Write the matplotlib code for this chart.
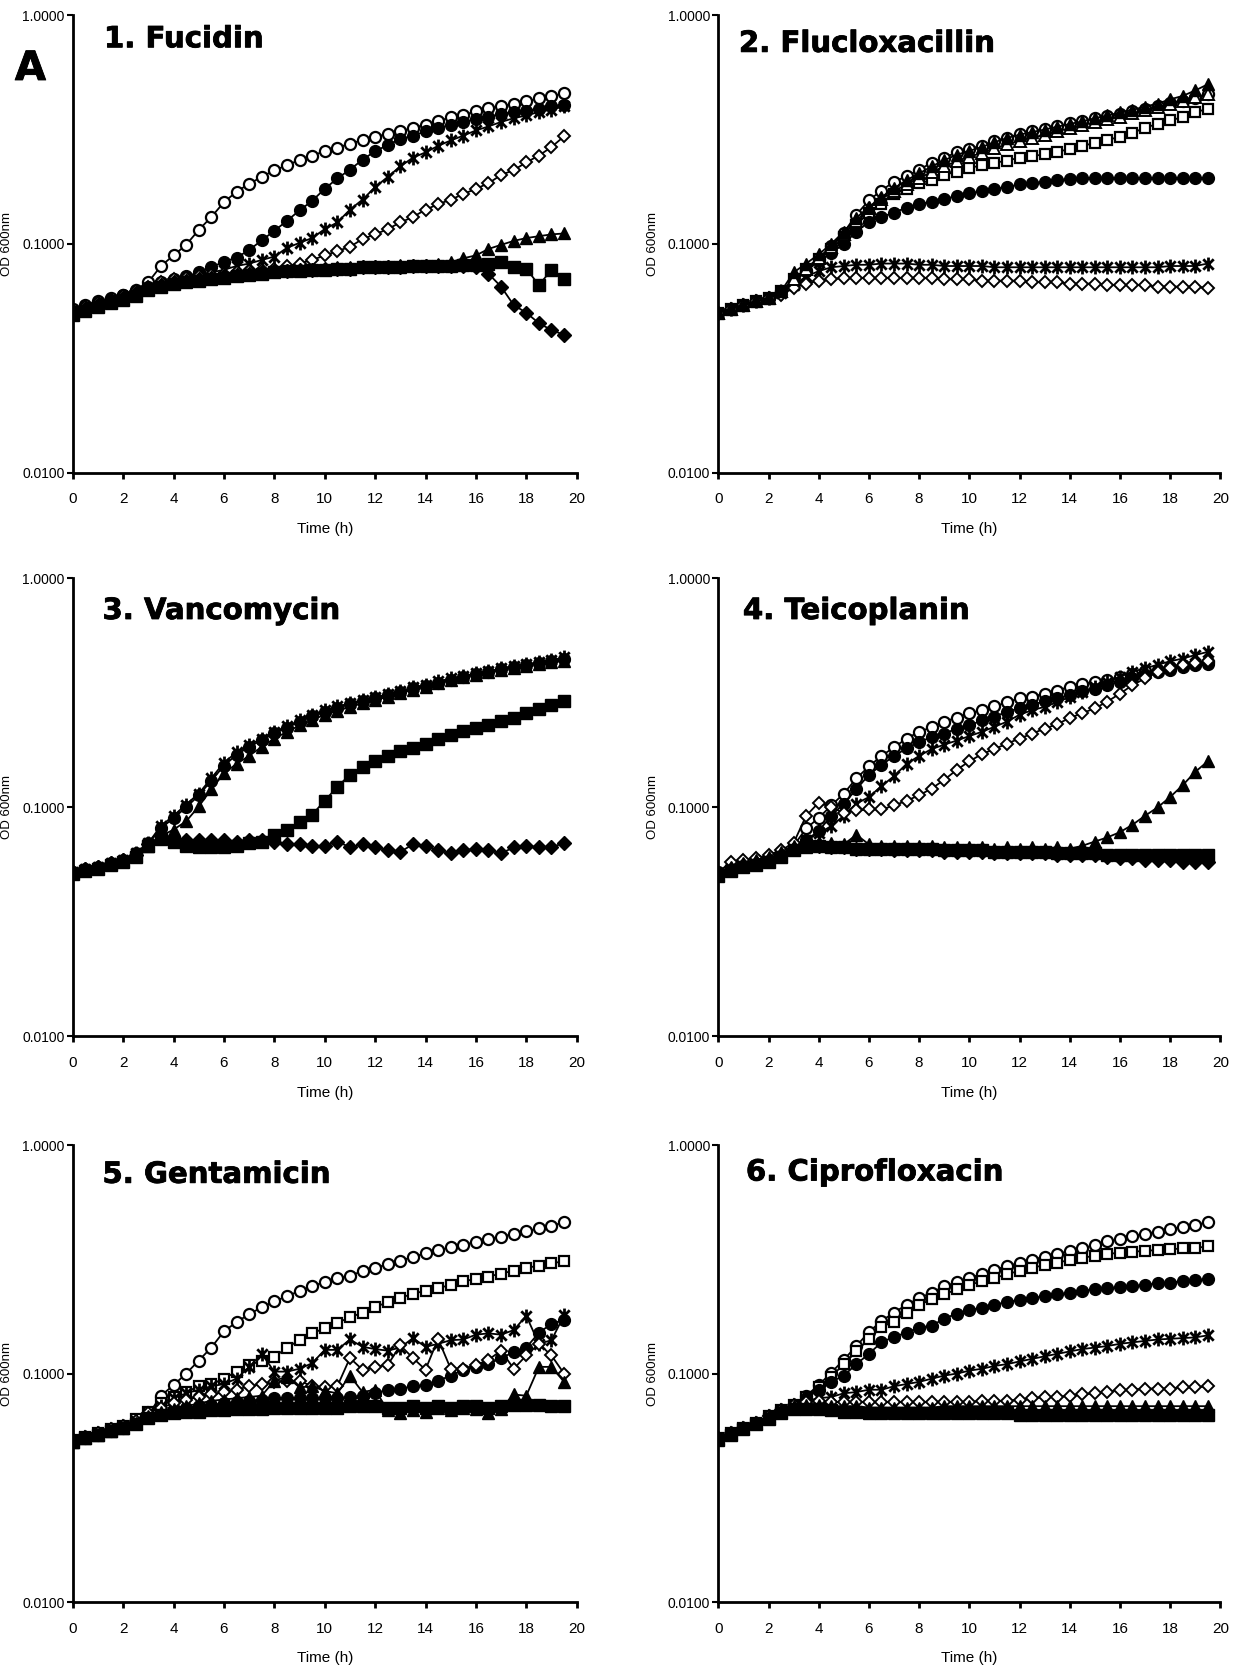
import matplotlib
matplotlib.use('Agg')
import matplotlib.pyplot as plt
import matplotlib.patheffects as pe
from matplotlib.path import Path
from matplotlib.ticker import FixedLocator, NullLocator, FixedFormatter

# sampling times (h)
hours = [0, 0.5, 1, 1.5, 2, 2.5, 3, 3.5, 4, 4.5, 5, 5.5, 6, 6.5, 7, 7.5, 8, 8.5, 9, 9.5,
         10, 10.5, 11, 11.5, 12, 12.5, 13, 13.5, 14, 14.5, 15, 15.5, 16, 16.5, 17, 17.5, 18, 18.5, 19, 19.5]

# OD 600nm readings, one list per series

# 1. Fucidin
fuc_open_circle = [0.052, 0.054, 0.056, 0.058, 0.060, 0.063, 0.068, 0.080, 0.089, 0.099, 0.115, 0.131, 0.152, 0.169,
                   0.183, 0.196, 0.210, 0.220, 0.233, 0.243, 0.254, 0.263, 0.274, 0.284, 0.294, 0.302, 0.311, 0.321,
                   0.332, 0.344, 0.357, 0.366, 0.379, 0.392, 0.399, 0.409, 0.420, 0.432, 0.443, 0.454]
fuc_filled_circle = [0.051, 0.053, 0.055, 0.057, 0.060, 0.062, 0.065, 0.068, 0.070, 0.072, 0.075, 0.079, 0.0835, 0.087,
                     0.094, 0.1035, 0.114, 0.126, 0.140, 0.154, 0.174, 0.193, 0.211, 0.233, 0.254, 0.270, 0.287, 0.297,
                     0.310, 0.320, 0.332, 0.341, 0.351, 0.360, 0.369, 0.377, 0.382, 0.390, 0.399, 0.406]
fuc_star = [0.050, 0.052, 0.054, 0.056, 0.058, 0.061, 0.064, 0.067, 0.069, 0.071, 0.073, 0.075, 0.077, 0.080,
            0.082, 0.085, 0.088, 0.096, 0.101, 0.106, 0.116, 0.124, 0.141, 0.156, 0.177, 0.196, 0.218, 0.238,
            0.251, 0.268, 0.283, 0.297, 0.313, 0.326, 0.341, 0.354, 0.364, 0.377, 0.386, 0.399]
fuc_open_diamond = [0.051, 0.053, 0.055, 0.057, 0.059, 0.062, 0.065, 0.068, 0.070, 0.071, 0.072, 0.073, 0.074, 0.075,
                    0.076, 0.077, 0.078, 0.080, 0.082, 0.085, 0.089, 0.093, 0.097, 0.105, 0.110, 0.116, 0.124, 0.131,
                    0.141, 0.149, 0.156, 0.165, 0.174, 0.184, 0.200, 0.210, 0.227, 0.243, 0.265, 0.295]
fuc_filled_triangle = [0.050, 0.052, 0.054, 0.056, 0.058, 0.061, 0.064, 0.066, 0.068, 0.069, 0.070, 0.071, 0.072, 0.073,
                       0.074, 0.075, 0.076, 0.077, 0.077, 0.078, 0.078, 0.079, 0.079, 0.080, 0.080, 0.080, 0.081, 0.081,
                       0.081, 0.082, 0.083, 0.0865, 0.089, 0.095, 0.099, 0.103, 0.106, 0.108, 0.110, 0.111]
fuc_filled_diamond = [0.050, 0.052, 0.054, 0.056, 0.058, 0.061, 0.064, 0.066, 0.068, 0.069, 0.070, 0.071, 0.072, 0.073,
                      0.074, 0.075, 0.076, 0.076, 0.077, 0.077, 0.078, 0.078, 0.078, 0.079, 0.079, 0.079, 0.079, 0.080,
                      0.080, 0.080, 0.080, 0.080, 0.079, 0.074, 0.065, 0.054, 0.050, 0.045, 0.042, 0.040]
fuc_filled_square = [0.049, 0.051, 0.053, 0.055, 0.057, 0.059, 0.063, 0.065, 0.067, 0.068, 0.069, 0.070, 0.071, 0.072,
                     0.073, 0.074, 0.075, 0.076, 0.076, 0.077, 0.077, 0.078, 0.078, 0.079, 0.079, 0.079, 0.079, 0.080,
                     0.080, 0.080, 0.080, 0.081, 0.081, 0.082, 0.083, 0.079, 0.078, 0.066, 0.077, 0.0705]

# 2. Flucloxacillin
flu_open_circle = [0.050, 0.052, 0.054, 0.056, 0.058, 0.062, 0.068, 0.076, 0.086, 0.098, 0.112, 0.134, 0.155, 0.171,
                   0.187, 0.197, 0.211, 0.226, 0.238, 0.251, 0.260, 0.269, 0.282, 0.291, 0.302, 0.310, 0.318, 0.327,
                   0.336, 0.345, 0.353, 0.361, 0.370, 0.381, 0.390, 0.400, 0.412, 0.423, 0.434, 0.450]
flu_open_square = [0.050, 0.052, 0.054, 0.056, 0.058, 0.062, 0.070, 0.078, 0.086, 0.095, 0.107, 0.121, 0.137, 0.150,
                   0.165, 0.174, 0.184, 0.190, 0.200, 0.207, 0.215, 0.220, 0.226, 0.231, 0.238, 0.242, 0.246, 0.252,
                   0.260, 0.267, 0.277, 0.284, 0.294, 0.305, 0.322, 0.334, 0.346, 0.358, 0.375, 0.390]
flu_filled_circle = [0.050, 0.052, 0.054, 0.056, 0.058, 0.062, 0.068, 0.076, 0.084, 0.091, 0.100, 0.113, 0.125, 0.131,
                     0.137, 0.144, 0.149, 0.153, 0.157, 0.162, 0.166, 0.170, 0.174, 0.177, 0.182, 0.184, 0.187, 0.190,
                     0.192, 0.193, 0.194, 0.194, 0.194, 0.194, 0.194, 0.194, 0.194, 0.194, 0.194, 0.194]
flu_star = [0.050, 0.052, 0.054, 0.056, 0.058, 0.061, 0.066, 0.072, 0.076, 0.079, 0.080, 0.081, 0.081, 0.082,
            0.082, 0.082, 0.081, 0.081, 0.080, 0.080, 0.080, 0.080, 0.079, 0.079, 0.079, 0.079, 0.079, 0.079,
            0.079, 0.079, 0.079, 0.079, 0.079, 0.079, 0.079, 0.079, 0.080, 0.080, 0.080, 0.082]
flu_open_diamond = [0.050, 0.052, 0.054, 0.056, 0.058, 0.060, 0.064, 0.067, 0.069, 0.070, 0.071, 0.071, 0.071, 0.071,
                    0.071, 0.071, 0.071, 0.071, 0.070, 0.070, 0.070, 0.069, 0.069, 0.069, 0.069, 0.068, 0.068, 0.068,
                    0.067, 0.067, 0.067, 0.066, 0.066, 0.066, 0.066, 0.065, 0.065, 0.065, 0.065, 0.064]
flu_open_triangle = [0.050, 0.052, 0.054, 0.056, 0.058, 0.062, 0.070, 0.078, 0.087, 0.097, 0.110, 0.126, 0.143, 0.157,
                     0.170, 0.182, 0.194, 0.206, 0.218, 0.230, 0.240, 0.250, 0.262, 0.272, 0.282, 0.291, 0.300, 0.310,
                     0.320, 0.330, 0.340, 0.350, 0.360, 0.372, 0.384, 0.396, 0.410, 0.423, 0.437, 0.452]
flu_filled_triangle = [0.050, 0.052, 0.054, 0.056, 0.058, 0.062, 0.075, 0.082, 0.090, 0.100, 0.113, 0.130, 0.145, 0.160,
                       0.175, 0.190, 0.203, 0.218, 0.232, 0.245, 0.255, 0.265, 0.278, 0.290, 0.300, 0.308, 0.316, 0.325,
                       0.334, 0.343, 0.354, 0.364, 0.375, 0.385, 0.398, 0.410, 0.428, 0.443, 0.468, 0.498]

# 3. Vancomycin
van_filled_circle = [0.052, 0.054, 0.055, 0.057, 0.059, 0.063, 0.070, 0.081, 0.090, 0.100, 0.113, 0.131, 0.152, 0.170,
                     0.184, 0.197, 0.211, 0.223, 0.237, 0.250, 0.262, 0.273, 0.282, 0.292, 0.300, 0.309, 0.319, 0.331,
                     0.340, 0.351, 0.362, 0.371, 0.381, 0.390, 0.401, 0.411, 0.419, 0.427, 0.436, 0.447]
van_star = [0.052, 0.054, 0.055, 0.057, 0.059, 0.063, 0.070, 0.083, 0.092, 0.103, 0.115, 0.134, 0.157, 0.174,
            0.187, 0.200, 0.214, 0.226, 0.240, 0.254, 0.266, 0.276, 0.285, 0.295, 0.303, 0.312, 0.322, 0.335,
            0.343, 0.355, 0.366, 0.375, 0.385, 0.393, 0.405, 0.415, 0.423, 0.430, 0.440, 0.452]
van_filled_triangle = [0.052, 0.054, 0.055, 0.057, 0.059, 0.062, 0.068, 0.075, 0.080, 0.087, 0.101, 0.120, 0.141, 0.155,
                       0.168, 0.184, 0.200, 0.214, 0.228, 0.241, 0.254, 0.264, 0.275, 0.285, 0.294, 0.305, 0.316, 0.326,
                       0.337, 0.348, 0.360, 0.370, 0.380, 0.389, 0.398, 0.407, 0.415, 0.423, 0.430, 0.437]
van_filled_diamond = [0.052, 0.054, 0.055, 0.057, 0.059, 0.062, 0.069, 0.075, 0.073, 0.072, 0.072, 0.072, 0.072, 0.071,
                      0.072, 0.072, 0.071, 0.069, 0.069, 0.068, 0.068, 0.071, 0.067, 0.069, 0.067, 0.065, 0.064, 0.069,
                      0.068, 0.065, 0.063, 0.065, 0.066, 0.065, 0.063, 0.067, 0.068, 0.067, 0.067, 0.070]
van_filled_square = [0.051, 0.053, 0.054, 0.056, 0.058, 0.061, 0.068, 0.073, 0.071, 0.068, 0.067, 0.067, 0.067, 0.068,
                     0.070, 0.071, 0.076, 0.080, 0.086, 0.093, 0.107, 0.123, 0.139, 0.150, 0.160, 0.167, 0.176, 0.182,
                     0.190, 0.200, 0.208, 0.215, 0.223, 0.230, 0.238, 0.247, 0.258, 0.270, 0.280, 0.292]

# 4. Teicoplanin
tei_open_circle = [0.052, 0.055, 0.057, 0.059, 0.061, 0.064, 0.068, 0.081, 0.090, 0.102, 0.115, 0.134, 0.151, 0.168,
                   0.183, 0.200, 0.214, 0.224, 0.237, 0.247, 0.258, 0.266, 0.276, 0.288, 0.300, 0.305, 0.314, 0.324,
                   0.337, 0.345, 0.354, 0.360, 0.373, 0.381, 0.393, 0.400, 0.410, 0.418, 0.425, 0.432]
tei_filled_circle = [0.051, 0.054, 0.056, 0.058, 0.060, 0.063, 0.067, 0.072, 0.079, 0.092, 0.104, 0.120, 0.139, 0.153,
                     0.168, 0.181, 0.193, 0.203, 0.210, 0.221, 0.228, 0.240, 0.249, 0.262, 0.271, 0.281, 0.291, 0.300,
                     0.310, 0.321, 0.330, 0.343, 0.354, 0.366, 0.380, 0.390, 0.400, 0.410, 0.420, 0.425]
tei_star = [0.051, 0.054, 0.056, 0.058, 0.060, 0.063, 0.067, 0.072, 0.077, 0.083, 0.092, 0.104, 0.111, 0.124,
            0.137, 0.155, 0.168, 0.180, 0.188, 0.196, 0.205, 0.214, 0.225, 0.237, 0.254, 0.266, 0.275, 0.288,
            0.304, 0.320, 0.335, 0.354, 0.373, 0.392, 0.405, 0.420, 0.435, 0.447, 0.463, 0.478]
tei_open_diamond = [0.052, 0.058, 0.059, 0.060, 0.062, 0.065, 0.070, 0.092, 0.105, 0.100, 0.095, 0.097, 0.098, 0.098,
                    0.102, 0.107, 0.113, 0.121, 0.132, 0.146, 0.159, 0.171, 0.180, 0.190, 0.200, 0.210, 0.221, 0.231,
                    0.246, 0.258, 0.271, 0.290, 0.314, 0.342, 0.366, 0.389, 0.405, 0.420, 0.428, 0.436]
tei_filled_triangle = [0.052, 0.055, 0.057, 0.059, 0.061, 0.064, 0.068, 0.070, 0.071, 0.070, 0.069, 0.076, 0.069, 0.068,
                       0.068, 0.068, 0.068, 0.068, 0.067, 0.067, 0.067, 0.067, 0.066, 0.067, 0.066, 0.067, 0.066, 0.067,
                       0.066, 0.068, 0.071, 0.074, 0.078, 0.084, 0.092, 0.100, 0.111, 0.125, 0.143, 0.159]
tei_filled_diamond = [0.051, 0.054, 0.056, 0.057, 0.059, 0.062, 0.066, 0.068, 0.068, 0.067, 0.067, 0.066, 0.066, 0.066,
                      0.065, 0.065, 0.065, 0.065, 0.064, 0.064, 0.064, 0.064, 0.063, 0.063, 0.063, 0.063, 0.063, 0.062,
                      0.062, 0.062, 0.062, 0.061, 0.060, 0.060, 0.059, 0.059, 0.059, 0.058, 0.058, 0.058]
tei_filled_square = [0.050, 0.053, 0.055, 0.056, 0.058, 0.061, 0.065, 0.067, 0.068, 0.067, 0.067, 0.066, 0.066, 0.066,
                     0.066, 0.066, 0.066, 0.066, 0.065, 0.065, 0.065, 0.065, 0.064, 0.064, 0.064, 0.064, 0.064, 0.063,
                     0.063, 0.063, 0.063, 0.062, 0.062, 0.062, 0.062, 0.062, 0.062, 0.062, 0.062, 0.062]

# 5. Gentamicin
gen_open_circle = [0.051, 0.053, 0.055, 0.057, 0.059, 0.062, 0.066, 0.080, 0.089, 0.100, 0.114, 0.130, 0.153, 0.168,
                   0.182, 0.195, 0.207, 0.218, 0.230, 0.241, 0.252, 0.261, 0.268, 0.281, 0.290, 0.301, 0.312, 0.324,
                   0.336, 0.347, 0.357, 0.366, 0.377, 0.388, 0.398, 0.408, 0.420, 0.432, 0.443, 0.460]
gen_open_square = [0.051, 0.053, 0.055, 0.057, 0.059, 0.063, 0.068, 0.074, 0.079, 0.083, 0.088, 0.090, 0.095, 0.102,
                   0.109, 0.114, 0.118, 0.130, 0.140, 0.150, 0.158, 0.167, 0.176, 0.185, 0.196, 0.205, 0.215, 0.223,
                   0.231, 0.237, 0.244, 0.253, 0.260, 0.266, 0.274, 0.282, 0.290, 0.297, 0.304, 0.310]
gen_filled_circle = [0.050, 0.052, 0.054, 0.056, 0.058, 0.061, 0.065, 0.068, 0.070, 0.071, 0.072, 0.073, 0.074, 0.075,
                     0.076, 0.077, 0.078, 0.078, 0.078, 0.078, 0.078, 0.078, 0.079, 0.080, 0.082, 0.085, 0.086, 0.088,
                     0.089, 0.093, 0.098, 0.104, 0.107, 0.110, 0.117, 0.124, 0.130, 0.151, 0.165, 0.172]
gen_star = [0.051, 0.053, 0.055, 0.057, 0.059, 0.062, 0.067, 0.072, 0.078, 0.082, 0.085, 0.088, 0.090, 0.095,
            0.107, 0.122, 0.102, 0.102, 0.105, 0.111, 0.127, 0.127, 0.141, 0.131, 0.128, 0.126, 0.130, 0.143,
            0.131, 0.135, 0.140, 0.141, 0.148, 0.150, 0.148, 0.155, 0.179, 0.135, 0.140, 0.180]
gen_open_diamond = [0.051, 0.053, 0.055, 0.057, 0.059, 0.062, 0.067, 0.071, 0.074, 0.077, 0.079, 0.081, 0.083, 0.085,
                    0.088, 0.090, 0.092, 0.093, 0.093, 0.088, 0.087, 0.088, 0.117, 0.104, 0.107, 0.109, 0.133, 0.117,
                    0.104, 0.142, 0.105, 0.105, 0.109, 0.115, 0.126, 0.105, 0.120, 0.135, 0.120, 0.100]
gen_filled_triangle = [0.050, 0.052, 0.054, 0.056, 0.058, 0.061, 0.065, 0.068, 0.070, 0.072, 0.074, 0.076, 0.077, 0.078,
                       0.079, 0.080, 0.093, 0.097, 0.087, 0.088, 0.084, 0.082, 0.098, 0.083, 0.085, 0.069, 0.067, 0.069,
                       0.068, 0.071, 0.069, 0.071, 0.070, 0.067, 0.070, 0.081, 0.080, 0.107, 0.107, 0.092]
gen_filled_square = [0.050, 0.052, 0.054, 0.056, 0.058, 0.060, 0.064, 0.066, 0.067, 0.068, 0.068, 0.069, 0.069, 0.070,
                     0.070, 0.070, 0.071, 0.071, 0.071, 0.071, 0.071, 0.071, 0.072, 0.072, 0.072, 0.071, 0.071, 0.072,
                     0.071, 0.072, 0.071, 0.072, 0.072, 0.071, 0.072, 0.073, 0.073, 0.073, 0.072, 0.072]

# 6. Ciprofloxacin
cip_open_circle = [0.052, 0.055, 0.058, 0.061, 0.065, 0.069, 0.073, 0.080, 0.089, 0.101, 0.115, 0.132, 0.152, 0.170,
                   0.185, 0.200, 0.214, 0.226, 0.241, 0.251, 0.262, 0.273, 0.285, 0.295, 0.306, 0.315, 0.325, 0.334,
                   0.344, 0.354, 0.365, 0.379, 0.388, 0.399, 0.409, 0.418, 0.428, 0.439, 0.447, 0.460]
cip_open_square = [0.052, 0.055, 0.058, 0.061, 0.065, 0.069, 0.073, 0.079, 0.087, 0.097, 0.110, 0.125, 0.142, 0.160,
                   0.169, 0.185, 0.200, 0.211, 0.222, 0.234, 0.245, 0.253, 0.262, 0.272, 0.282, 0.290, 0.299, 0.306,
                   0.314, 0.321, 0.328, 0.334, 0.338, 0.341, 0.345, 0.347, 0.350, 0.353, 0.355, 0.360]
cip_filled_circle = [0.052, 0.055, 0.058, 0.061, 0.065, 0.069, 0.073, 0.078, 0.085, 0.092, 0.098, 0.110, 0.122, 0.137,
                     0.145, 0.151, 0.159, 0.162, 0.174, 0.183, 0.190, 0.194, 0.200, 0.206, 0.210, 0.214, 0.218, 0.222,
                     0.226, 0.230, 0.234, 0.236, 0.239, 0.241, 0.245, 0.248, 0.250, 0.254, 0.256, 0.260]
cip_star = [0.052, 0.055, 0.058, 0.061, 0.065, 0.069, 0.073, 0.076, 0.078, 0.079, 0.082, 0.083, 0.085, 0.085,
            0.088, 0.090, 0.092, 0.095, 0.098, 0.100, 0.103, 0.105, 0.108, 0.110, 0.113, 0.116, 0.119, 0.122,
            0.125, 0.128, 0.130, 0.132, 0.135, 0.137, 0.139, 0.141, 0.142, 0.143, 0.144, 0.147]
cip_open_diamond = [0.052, 0.055, 0.058, 0.061, 0.065, 0.069, 0.073, 0.075, 0.076, 0.075, 0.075, 0.075, 0.075, 0.075,
                    0.075, 0.075, 0.075, 0.075, 0.075, 0.075, 0.075, 0.076, 0.076, 0.076, 0.077, 0.078, 0.079, 0.079,
                    0.080, 0.081, 0.082, 0.083, 0.085, 0.085, 0.086, 0.086, 0.086, 0.087, 0.087, 0.088]
cip_filled_triangle = [0.052, 0.055, 0.058, 0.061, 0.065, 0.069, 0.072, 0.073, 0.073, 0.072, 0.072, 0.072, 0.071, 0.071,
                       0.071, 0.071, 0.071, 0.071, 0.072, 0.072, 0.072, 0.072, 0.072, 0.072, 0.072, 0.072, 0.072, 0.072,
                       0.072, 0.072, 0.072, 0.072, 0.072, 0.072, 0.072, 0.072, 0.072, 0.072, 0.072, 0.072]
cip_filled_square = [0.051, 0.054, 0.057, 0.060, 0.063, 0.067, 0.070, 0.070, 0.070, 0.069, 0.068, 0.068, 0.067, 0.067,
                     0.067, 0.067, 0.067, 0.067, 0.067, 0.067, 0.067, 0.067, 0.067, 0.067, 0.066, 0.066, 0.066, 0.066,
                     0.066, 0.066, 0.066, 0.066, 0.066, 0.066, 0.066, 0.066, 0.066, 0.066, 0.066, 0.066]

titles = ['1. Fucidin', '2. Flucloxacillin', '3. Vancomycin',
          '4. Teicoplanin', '5. Gentamicin', '6. Ciprofloxacin']

# asterisk marker: an X crossed by a vertical bar
asterisk = Path([(0, -1), (0, 1), (-0.75, -0.75), (0.75, 0.75), (-0.75, 0.75), (0.75, -0.75)],
                [Path.MOVETO, Path.LINETO] * 3)

styles = {
    'open_circle': dict(marker='o', mfc='white', ms=8, mew=1.6),
    'filled_circle': dict(marker='o', mfc='black', ms=8.5, mew=1.0),
    'star': dict(marker=asterisk, mfc='none', ms=10, mew=2.0),
    'open_diamond': dict(marker='D', mfc='white', ms=6, mew=1.4),
    'open_square': dict(marker='s', mfc='white', ms=7, mew=1.6),
    'open_triangle': dict(marker='^', mfc='white', ms=8, mew=1.4),
    'filled_triangle': dict(marker='^', mfc='black', ms=9, mew=1.0),
    'filled_diamond': dict(marker='D', mfc='black', ms=7.5, mew=1.0),
    'filled_square': dict(marker='s', mfc='black', ms=8.5, mew=1.0),
}

panels = [
    [('open_circle', fuc_open_circle), ('filled_circle', fuc_filled_circle), ('star', fuc_star),
     ('open_diamond', fuc_open_diamond), ('filled_triangle', fuc_filled_triangle),
     ('filled_diamond', fuc_filled_diamond), ('filled_square', fuc_filled_square)],
    [('open_circle', flu_open_circle), ('open_square', flu_open_square), ('filled_circle', flu_filled_circle),
     ('star', flu_star), ('open_diamond', flu_open_diamond), ('open_triangle', flu_open_triangle),
     ('filled_triangle', flu_filled_triangle)],
    [('filled_circle', van_filled_circle), ('star', van_star), ('filled_triangle', van_filled_triangle),
     ('filled_diamond', van_filled_diamond), ('filled_square', van_filled_square)],
    [('open_circle', tei_open_circle), ('filled_circle', tei_filled_circle), ('star', tei_star),
     ('open_diamond', tei_open_diamond), ('filled_triangle', tei_filled_triangle),
     ('filled_diamond', tei_filled_diamond), ('filled_square', tei_filled_square)],
    [('open_circle', gen_open_circle), ('open_square', gen_open_square), ('filled_circle', gen_filled_circle),
     ('star', gen_star), ('open_diamond', gen_open_diamond), ('filled_triangle', gen_filled_triangle),
     ('filled_square', gen_filled_square)],
    [('open_circle', cip_open_circle), ('open_square', cip_open_square), ('filled_circle', cip_filled_circle),
     ('star', cip_star), ('open_diamond', cip_open_diamond), ('filled_triangle', cip_filled_triangle),
     ('filled_square', cip_filled_square)],
]

# axes rectangles (figure fraction) and title anchors (axes fraction)
rects = [[0.0588, 0.7168, 0.4074, 0.2742], [0.5807, 0.7168, 0.4058, 0.2742],
         [0.0588, 0.3790, 0.4074, 0.2744], [0.5807, 0.3790, 0.4058, 0.2744],
         [0.0588, 0.0401, 0.4074, 0.2738], [0.5807, 0.0401, 0.4058, 0.2738]]
title_xy = [(0.062, 0.947), (0.041, 0.937), (0.059, 0.929),
            (0.049, 0.929), (0.059, 0.935), (0.055, 0.940)]

narrow = ['Liberation Sans Narrow', 'Liberation Sans', 'DejaVu Sans']
heavy = [pe.withStroke(linewidth=0.6, foreground='black')]

fig = plt.figure(figsize=(12.37, 16.69), dpi=100)

for rect, series, title, (tx, ty) in zip(rects, panels, titles, title_xy):
    ax = fig.add_axes(rect)
    for kind, values in series:
        st = styles[kind]
        ax.plot(hours, values, color='black', lw=1.3, marker=st['marker'], ms=st['ms'],
                mfc=st['mfc'], mec='black', mew=st['mew'])
    ax.set_yscale('log')
    ax.set_ylim(0.01, 1.0)
    ax.set_xlim(0, 20)
    ax.yaxis.set_major_locator(FixedLocator([0.01, 0.1, 1.0]))
    ax.yaxis.set_major_formatter(FixedFormatter(['0.0100', '0.1000', '1.0000']))
    ax.yaxis.set_minor_locator(NullLocator())
    ax.set_xticks(range(0, 21, 2))
    for side in ('top', 'right'):
        ax.spines[side].set_visible(False)
    for side in ('left', 'bottom'):
        ax.spines[side].set_linewidth(2.0)
    ax.tick_params(axis='x', direction='out', length=4, width=2, pad=10)
    ax.tick_params(axis='y', direction='out', length=4, width=1.5, pad=2)
    for lab in ax.get_xticklabels():
        lab.set_family(narrow)
        lab.set_fontsize(11)
    for lab in ax.get_yticklabels():
        lab.set_family(narrow)
        lab.set_fontsize(10)
    ax.set_xlabel('Time (h)', family=narrow, fontsize=11)
    ax.xaxis.set_label_coords(0.5, -0.108)
    ax.set_ylabel('OD 600nm', family='Liberation Sans', fontsize=9.5)
    ax.yaxis.set_label_coords(-0.118, 0.5)
    ax.text(tx, ty, title, transform=ax.transAxes, ha='left', va='center',
            family='DejaVu Sans', fontweight='bold', fontsize=21, path_effects=heavy)

fig.text(0.012, 1 - 69 / 1669, 'A', ha='left', va='center',
         family='DejaVu Sans', fontweight='bold', fontsize=29, path_effects=heavy)

fig.savefig('out.png', dpi=100)
